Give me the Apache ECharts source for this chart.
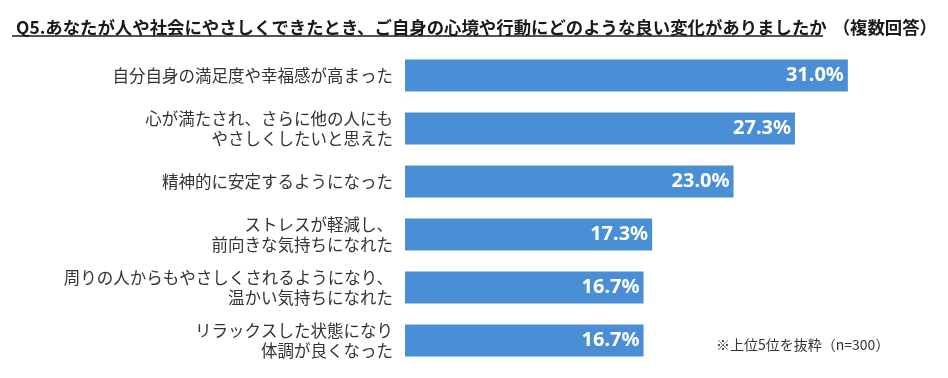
<!DOCTYPE html>
<html><head><meta charset="utf-8">
<script src="https://cdn.jsdelivr.net/npm/echarts@6/dist/echarts.min.js"></script>
<style>html,body{margin:0;padding:0;background:#fff}#c{width:948px;height:378px}</style>
</head><body><div id="c"></div>
<script>
const titleText = 'Q5.あなたが人や社会にやさしくできたとき、ご自身の心境や行動にどのような良い変化がありましたか';
const titleSuffix = '（複数回答）';
const categories = [
  '自分自身の満足度や幸福感が高まった',
  '心が満たされ、さらに他の人にも\nやさしくしたいと思えた',
  '精神的に安定するようになった',
  'ストレスが軽減し、\n前向きな気持ちになれた',
  '周りの人からもやさしくされるようになり、\n温かい気持ちになれた',
  'リラックスした状態になり\n体調が良くなった'
];
const values = [31.0, 27.3, 23.0, 17.3, 16.7, 16.7];
const note = '※上位5位を抜粋（n=300）';

const chart = echarts.init(document.getElementById('c'));
chart.setOption({
  animation: false,
  backgroundColor: '#fff',
  title: [{
    text: '{u|' + titleText + '}{g|}{s|' + titleSuffix + '}',
    left: 11, top: 13,
    textStyle: {
      rich: {
        u: {fontFamily: 'Noto Sans CJK JP', fontWeight: 'bold', fontSize: 17.4, color: '#1a1a1a'},
        g: {width: 6},
        s: {fontFamily: 'Noto Sans CJK JP', fontWeight: 'bold', fontSize: 17.4, color: '#1a1a1a'}
      }
    }
  }, {
    text: note,
    left: 711, top: 333,
    textStyle: {fontFamily: 'Noto Sans CJK JP', fontWeight: 'normal', fontSize: 14, color: '#333'}
  }],
  graphic: [{
    type: 'line', shape: {x1: 12, y1: 36, x2: 823, y2: 36},
    style: {stroke: '#1a1a1a', lineWidth: 1.5}
  }],
  grid: {left: 405, right: 43, top: 49, bottom: 11, containLabel: false},
  xAxis: {type: 'value', min: 0, max: 35, show: false},
  yAxis: {
    type: 'category', data: categories, inverse: true,
    axisLine: {show: false}, axisTick: {show: false},
    axisLabel: {
      margin: 12, fontFamily: 'Noto Sans CJK JP', fontSize: 16.5,
      color: '#333', lineHeight: 20, align: 'right'
    }
  },
  series: [{
    type: 'bar', data: values, barWidth: 32,
    itemStyle: {color: '#4a8fd6'},
    label: {
      show: true, position: 'insideRight', distance: 4,
      formatter: p => p.value.toFixed(1) + '%',
      fontFamily: 'Noto Sans', fontWeight: 'bold', fontSize: 20, color: '#fff'
    }
  }]
});
</script></body></html>
